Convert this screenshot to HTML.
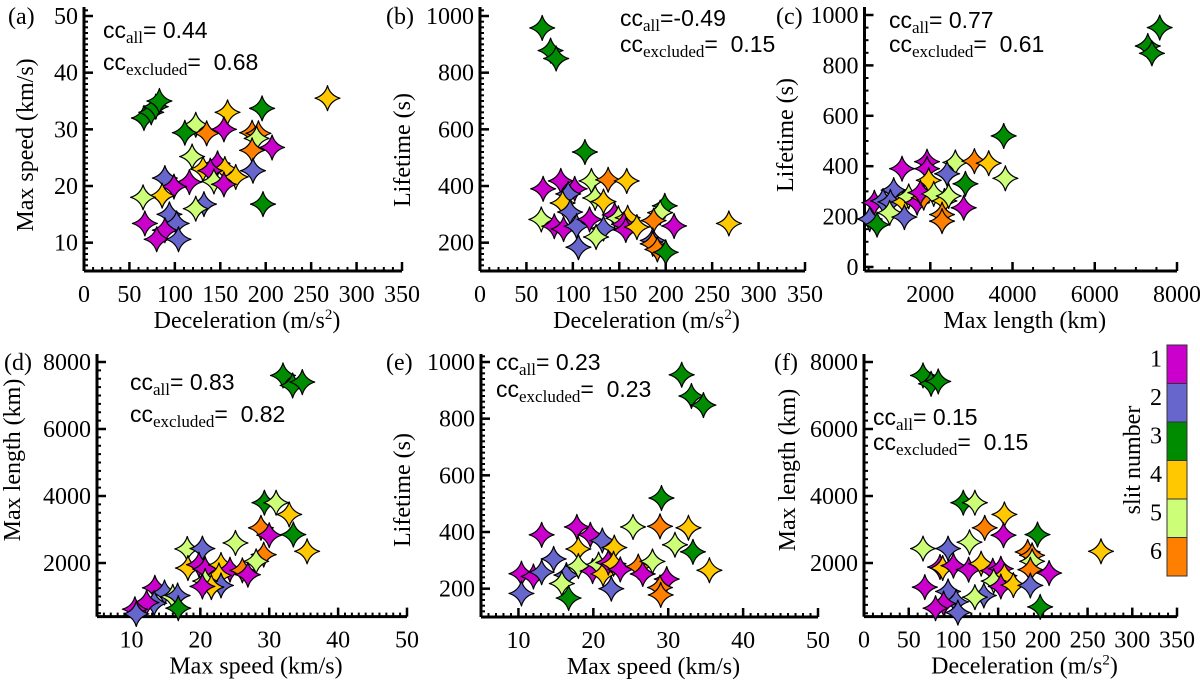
<!DOCTYPE html>
<html><head><meta charset="utf-8">
<style>
body{margin:0;background:#fff;}
svg{display:block;}
.tk{font-family:"Liberation Serif",serif;font-size:24px;fill:#000;}
.ttl{font-family:"Liberation Serif",serif;font-size:24px;fill:#000;}
.cc{font-family:"Liberation Sans",sans-serif;font-size:23px;fill:#000;}
.ccs{font-family:"Liberation Serif",serif;font-size:17px;}
</style></head>
<body>
<svg id="chart" width="1200" height="681" viewBox="0 0 1200 681" xmlns="http://www.w3.org/2000/svg"></svg>
<script>
// ---- data: slit numbers (1..6) per point ----
const slitColors = ["#cc00cc","#6666cc","#008c00","#ffc800","#ccff77","#ff8000"];
const slitLabels = ["1","2","3","4","5","6"];

// (a) deceleration vs max speed
const aX = [66,74,79,83,268,196,158,123,135,154,111,185,192,190,185,207,119,147,131,155,186,167,139,143,154,116,89,99,86,65,132,123,197,94,102,67,89,80,104];
const aY = [32,33,34,35,35.5,33.7,33,30.8,29.3,30,29.4,29.4,29.3,28.4,26.3,26.8,25.2,24,23,23,22.7,21.6,22.7,20.8,20.3,20.7,21.4,19.9,18.3,18,16.8,16,16.8,15,13.4,13.4,12.2,10.6,10.6];
const aS = [3,3,3,3,4,3,4,5,6,1,3,6,6,5,6,1,5,1,4,4,2,4,1,5,1,1,2,1,4,5,2,5,3,2,2,1,1,1,2];

// (b) deceleration vs lifetime
const bX = [67,76,82,113,68,87,102,120,138,158,95,89,124,133,97,66,80,90,104,118,133,145,149,159,155,157,169,199,194,187,209,268,106,125,186,186,191,200];
const bY = [958,878,850,520,390,418,390,418,422,418,372,340,358,345,308,282,258,248,258,282,250,298,286,288,265,245,255,330,306,278,259,268,184,220,208,196,176,166];
const bS = [3,3,3,3,1,1,1,5,6,4,2,4,5,4,2,5,1,1,2,1,2,1,5,4,1,1,4,3,5,6,1,4,2,5,2,6,6,3];

// (c) max length vs lifetime
const cX = [7580,7290,7390,3786,2610,3073,3421,3826,1313,1921,1921,1962,2408,2854,1110,640,851,1030,1354,1475,1678,1840,1759,2084,2343,2448,2813,1013,1370,2286,2286,527,705];
const cY = [950,877,848,520,415,420,412,352,390,418,390,344,370,330,305,255,262,258,258,280,255,275,295,290,262,282,235,215,198,208,182,190,168];
const cS = [3,3,3,3,5,6,4,5,1,1,1,4,2,3,2,1,2,2,4,5,1,6,1,5,4,5,1,5,2,6,6,2,3];

// (d) max speed vs max length
const dX = [32,33.4,34.8,29.3,31,32.9,28.8,30,33.5,35.5,25.1,18.1,20.3,29.2,28.1,18.2,19.8,20.7,23,24.3,26.1,26.9,22.7,23,20.7,21.6,20.3,13.4,14.8,16,16.7,13.3,12.2,16.8,10.5,10.7];
const dY = [7600,7300,7400,3800,3800,3450,3050,2830,2850,2350,2600,2420,2430,2250,2050,1850,1950,1820,1940,1800,1780,1650,1630,1330,1460,1280,1300,1260,1120,990,1030,800,820,650,620,480];
const dS = [3,3,3,3,5,4,6,1,3,4,5,5,2,6,5,4,1,1,4,1,6,1,4,2,5,4,1,1,2,5,2,2,1,3,1,2];

// (e) max speed vs lifetime
const eX = [31.8,33.1,34.7,29.1,28.9,32.7,30.9,33.3,35.5,25.3,17.8,19.6,21.2,22.8,18,14.7,13.1,10.4,12,13.1,16.4,18,19.9,20.7,21.3,22,22.7,23.6,26,26.6,27.9,29.8,10.4,15.8,16.7,22.4,28.9,29];
const eY = [955,880,848,520,420,415,355,330,265,418,418,390,370,345,340,305,390,253,243,258,248,280,262,285,252,292,288,268,278,252,296,234,183,218,167,200,204,178];
const eS = [3,3,3,3,6,4,5,3,4,5,1,1,2,4,4,2,1,1,1,2,2,5,1,5,4,1,4,1,6,1,5,1,2,5,3,2,6,6];

// (f) deceleration vs max length
const fX = [66,75,83,111,124,157,135,156,194,265,66,94,118,183,188,188,186,85,88,100,117,131,144,153,157,207,145,153,167,186,68,94,134,124,103,89,80,197,105];
const fY = [7600,7350,7420,3800,3800,3450,3050,2830,2850,2350,2430,2430,2620,2330,2230,2050,1800,1880,1850,1920,1800,1980,1770,1830,1620,1700,1460,1300,1340,1330,1280,1150,1030,980,840,790,650,690,520];
const fS = [3,3,3,3,5,4,6,1,3,4,5,2,5,6,6,5,6,1,4,1,1,4,1,1,4,1,5,1,4,2,1,2,2,5,2,1,1,3,2];

// ---- tick labels ----
const decelTicks = [0,50,100,150,200,250,300,350];
const speedTicksA = [10,20,30,40,50];
const lifeTicks = [200,400,600,800,1000];
const lifeTicksC = [0,200,400,600,800,1000];
const lengthTicksC = [2000,4000,6000,8000];
const speedTicksD = [10,20,30,40,50];
const lengthTicksY = [2000,4000,6000,8000];

const NS = "http://www.w3.org/2000/svg";
const svg = document.getElementById("chart");
function mk(tag, attrs, parent){
  const e = document.createElementNS(NS, tag);
  for (const k in attrs) e.setAttribute(k, attrs[k]);
  (parent||svg).appendChild(e);
  return e;
}

const panels = [
 {id:"a", X:aX,Y:aY,S:aS, L:84,R:402,xmin:0,xmax:350, yTop:16,yBot:271,ymin:5,ymax:50, axTop:7,
  xt:decelTicks, yt:speedTicksA, xminor:10, yminor:1, xlab:"Deceleration (m/s", sup:true, ylab:"Max speed (km/s)", yx:25, yy:145,
  tag:"(a)", tx:8, ty:24, cc:["0.44","0.68"], ccx:103, ccy:[38,70]},
 {id:"b", X:bX,Y:bY,S:bS, L:480,R:805,xmin:0,xmax:350, yTop:16,yBot:271,ymin:100,ymax:1000, axTop:7,
  xt:decelTicks, yt:lifeTicks, xminor:10, yminor:20, xlab:"Deceleration (m/s", sup:true, ylab:"Lifetime (s)", yx:402, yy:150,
  tag:"(b)", tx:386, ty:24, cc:["-0.49","0.15"], ccx:620, ccy:[26,52], noSpace:true},
 {id:"c", X:cX,Y:cY,S:cS, L:864.5,R:1177,xmin:400,xmax:8000, yTop:15,yBot:271,ymin:-16,ymax:1000, axTop:7,
  xt:lengthTicksC, yt:lifeTicksC, xminor:500, yminor:50, xlab:"Max length (km)", ylab:"Lifetime (s)", yx:785, yy:135,
  tag:"(c)", tx:776, ty:24, cc:["0.77","0.61"], ccx:889, ccy:[28,52]},
 {id:"d", X:dX,Y:dY,S:dS, L:97,R:407,xmin:5,xmax:50, yTop:362,yBot:616.6,ymin:400,ymax:8000, axTop:354,
  xt:speedTicksD, yt:lengthTicksY, xminor:1, yminor:250, xlab:"Max speed (km/s)", ylab:"Max length (km)", yx:12, yy:460,
  tag:"(d)", tx:4, ty:370, cc:["0.83","0.82"], ccx:130, ccy:[390,422]},
 {id:"e", X:eX,Y:eY,S:eS, L:481,R:818,xmin:5,xmax:50, yTop:362,yBot:617,ymin:100,ymax:1000, axTop:354,
  xt:speedTicksD, yt:lifeTicks, xminor:1, yminor:20, xlab:"Max speed (km/s)", ylab:"Lifetime (s)", yx:402, yy:490,
  tag:"(e)", tx:386, ty:370, cc:["0.23","0.23"], ccx:496, ccy:[370,397]},
 {id:"f", X:fX,Y:fY,S:fS, L:864,R:1177,xmin:0,xmax:350, yTop:362,yBot:616.6,ymin:400,ymax:8000, axTop:354,
  xt:decelTicks, yt:lengthTicksY, xminor:10, yminor:250, xlab:"Deceleration (m/s", sup:true, ylab:"Max length (km)", yx:787, yy:470,
  tag:"(f)", tx:774, ty:370, cc:["0.15","0.15"], ccx:873, ccy:[425,450]}
];

function starPath(cx, cy, r){
  const a = r*0.22;
  return `M${cx},${cy-r} Q${cx+a},${cy-a} ${cx+r},${cy} Q${cx+a},${cy+a} ${cx},${cy+r} Q${cx-a},${cy+a} ${cx-r},${cy} Q${cx-a},${cy-a} ${cx},${cy-r} Z`;
}

panels.forEach(p => {
  const g = mk("g", {});
  
  
  const xs = v => p.L + (v - p.xmin)/(p.xmax - p.xmin)*(p.R - p.L);
  const ys = v => p.yBot - (v - p.ymin)/(p.ymax - p.ymin)*(p.yBot - p.yTop);
  const xa = mk("line", {x1:p.L, y1:p.yBot, x2:p.R, y2:p.yBot, stroke:"#000","stroke-width":3}, g);
  
  
  const ya = mk("line", {x1:p.L, y1:p.yBot, x2:p.L, y2:p.axTop, stroke:"#000","stroke-width":3}, g);
  
  
  const first = Math.ceil(p.xmin/p.xminor)*p.xminor;
  for (let v = first; v <= p.xmax + 1e-9; v += p.xminor) {
    mk("line", {x1:xs(v), y1:p.yBot, x2:xs(v), y2:p.yBot-4, stroke:"#000","stroke-width":2}, g);
  }
  const yTopVal = p.ymin + (p.yBot - p.axTop)/(p.yBot - p.yTop)*(p.ymax - p.ymin);
  const fy = Math.ceil(p.ymin/p.yminor)*p.yminor;
  for (let v = fy; v <= yTopVal + 1e-9; v += p.yminor) {
    mk("line", {x1:p.L, y1:ys(v), x2:p.L+4, y2:ys(v), stroke:"#000","stroke-width":2}, g);
  }
  p.xt.forEach(v => {
    mk("line", {x1:xs(v), y1:p.yBot, x2:xs(v), y2:p.yBot-9, stroke:"#000","stroke-width":2.5}, g);
    const t = mk("text", {x:xs(v), y:p.yBot+31, "text-anchor":"middle", class:"tk"}, g);
    t.textContent = v;
    
    
  });
  p.yt.forEach(v => {
    mk("line", {x1:p.L, y1:ys(v), x2:p.L+9, y2:ys(v), stroke:"#000","stroke-width":2.5}, g);
    const t = mk("text", {x:p.L-6, y:ys(v)+8, "text-anchor":"end", class:"tk"}, g);
    t.textContent = v;
    
    
  });
  const xt = mk("text", {x:(p.L+p.R)/2+4, y:p.yBot+57, "text-anchor":"middle", class:"ttl"}, g);
  xt.textContent = p.xlab;
  if (p.sup) {
    const s1 = mk("tspan", {dy:-9, "font-size":"15"}, xt); s1.textContent = "2";
    const s2 = mk("tspan", {dy:9}, xt); s2.textContent = ")";
  }
  
  
  const yt = mk("text", {x:p.yx, y:p.yy, "text-anchor":"middle", class:"ttl", transform:`rotate(-90 ${p.yx} ${p.yy})`, dy:"8"}, g);
  yt.textContent = p.ylab;
  
  
  const tg = mk("text", {x:p.tx, y:p.ty, class:"tk"}, g);
  tg.textContent = p.tag;
  
  
  const names = ["all","excluded"];
  p.cc.forEach((val, i) => {
    const t = mk("text", {x:p.ccx, y:p.ccy[i], class:"cc"}, g);
    const a = mk("tspan", {}, t); a.textContent = "cc";
    const b = mk("tspan", {dy:5, class:"ccs"}, t); b.textContent = names[i];
    const c = mk("tspan", {dy:-5}, t);
    c.textContent = i === 0 ? (p.noSpace ? "=" + val : "=\u00a0" + val) : "=\u00a0\u00a0" + val;
    
    
  });
  p.X.forEach((xv, i) => {
    const m = mk("path", {d:starPath(xs(xv), ys(p.Y[i]), 12.5), fill:slitColors[p.S[i]-1], stroke:"#000","stroke-width":1.2,"stroke-linejoin":"round"}, g);
    
    
  });
});

const cb = mk("g", {});


const cbTop = 345, cbH = 38.5;
slitColors.forEach((c, i) => {
  const r = mk("rect", {x:1167, y:cbTop + i*cbH, width:20, height:cbH, fill:c, stroke:"#333","stroke-width":1}, cb);
  
  
  const t = mk("text", {x:1156, y:cbTop + i*cbH + cbH/2 + 2, "text-anchor":"middle", class:"tk"}, cb);
  t.textContent = slitLabels[i];
  
  
});
const cbt = mk("text", {x:1132, y:460, "text-anchor":"middle", class:"ttl", transform:"rotate(-90 1132 460)", dy:"8"}, cb);
cbt.textContent = "slit number";


</script>
</body></html>
